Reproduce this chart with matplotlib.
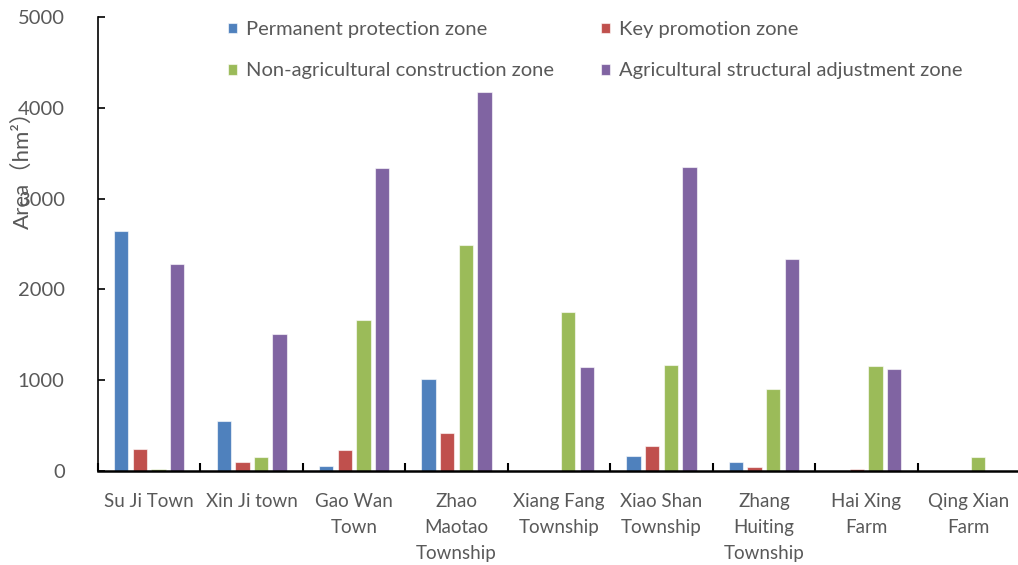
import numpy as np
import matplotlib.pyplot as plt
from matplotlib.ticker import FixedLocator

plt.rcParams['font.family'] = ['Lato', 'Noto Sans CJK SC', 'DejaVu Sans']

# Areas (hm2) per town and zone type
towns = ["Su Ji Town", "Xin Ji town", "Gao Wan\nTown", "Zhao\nMaotao\nTownship",
         "Xiang Fang\nTownship", "Xiao Shan\nTownship", "Zhang\nHuiting\nTownship",
         "Hai Xing\nFarm", "Qing Xian\nFarm"]
permanent = [2640, 546, 54, 1012, 0, 164, 98, 0, 0]
key_promo = [238, 98, 230, 414, 0, 271, 43, 21, 0]
non_agri = [25, 156, 1658, 2484, 1750, 1163, 898, 1155, 158]
agri_adjust = [2276, 1505, 3332, 4173, 1150, 3347, 2334, 1120, 0]

series = [
    ("Permanent protection zone", permanent, "#4F81BD"),
    ("Key promotion zone", key_promo, "#C0504D"),
    ("Non-agricultural construction zone", non_agri, "#9BBB59"),
    ("Agricultural structural adjustment zone", agri_adjust, "#8064A2"),
]

GREY = "#595959"

fig = plt.figure(figsize=(10.18, 5.65), dpi=100)
ax = fig.add_axes([98 / 1018, 94 / 565, 922 / 1018, 454 / 565])

x = np.arange(len(towns))
pitch = 0.182
width = 0.14
handles = []
for i, (name, vals, col) in enumerate(series):
    b = ax.bar(x + (i - 1.5) * pitch, vals, width, color=col, label=name,
               edgecolor=(1, 1, 1, 0.6), linewidth=0.8)
    handles.append(b)

ax.set_xlim(-0.5, len(towns) - 0.5)
ax.set_ylim(0, 5000)
ax.set_yticks(range(0, 5001, 1000))

ax.set_xticks(x)
ax.set_xticklabels(towns, linespacing=1.62)
ax.xaxis.set_minor_locator(FixedLocator(np.arange(-0.5, len(towns), 1.0)))
ax.tick_params(axis='x', which='major', length=0, pad=16, labelsize=13.5, labelcolor=GREY)
ax.tick_params(axis='x', which='minor', direction='in', length=6, width=1.5, color='black')
ax.tick_params(axis='y', direction='in', length=5, width=1.2, pad=24,
               labelsize=14.5, labelcolor=GREY)

for s in ['top', 'right']:
    ax.spines[s].set_visible(False)
ax.spines['left'].set_linewidth(1.2)
ax.spines['bottom'].set_linewidth(1.8)

fig.text(22 / 1018, 1 - 164 / 565, "Area（hm²）", rotation=90,
         ha='center', va='center', fontsize=16, color=GREY)

# legend fills column-wise, so order entries to read row by row
order = [0, 2, 1, 3]
leg = fig.legend(handles=[handles[i] for i in order], loc='upper left',
                 bbox_to_anchor=(210 / 1018, 1 - 3 / 565),
                 ncol=2, frameon=False, fontsize=14.5, handlelength=0.45, handleheight=0.45,
                 handletextpad=0.45, columnspacing=2.3, labelspacing=1.2)
for t in leg.get_texts():
    t.set_color(GREY)

fig.savefig("out.png", dpi=100)
